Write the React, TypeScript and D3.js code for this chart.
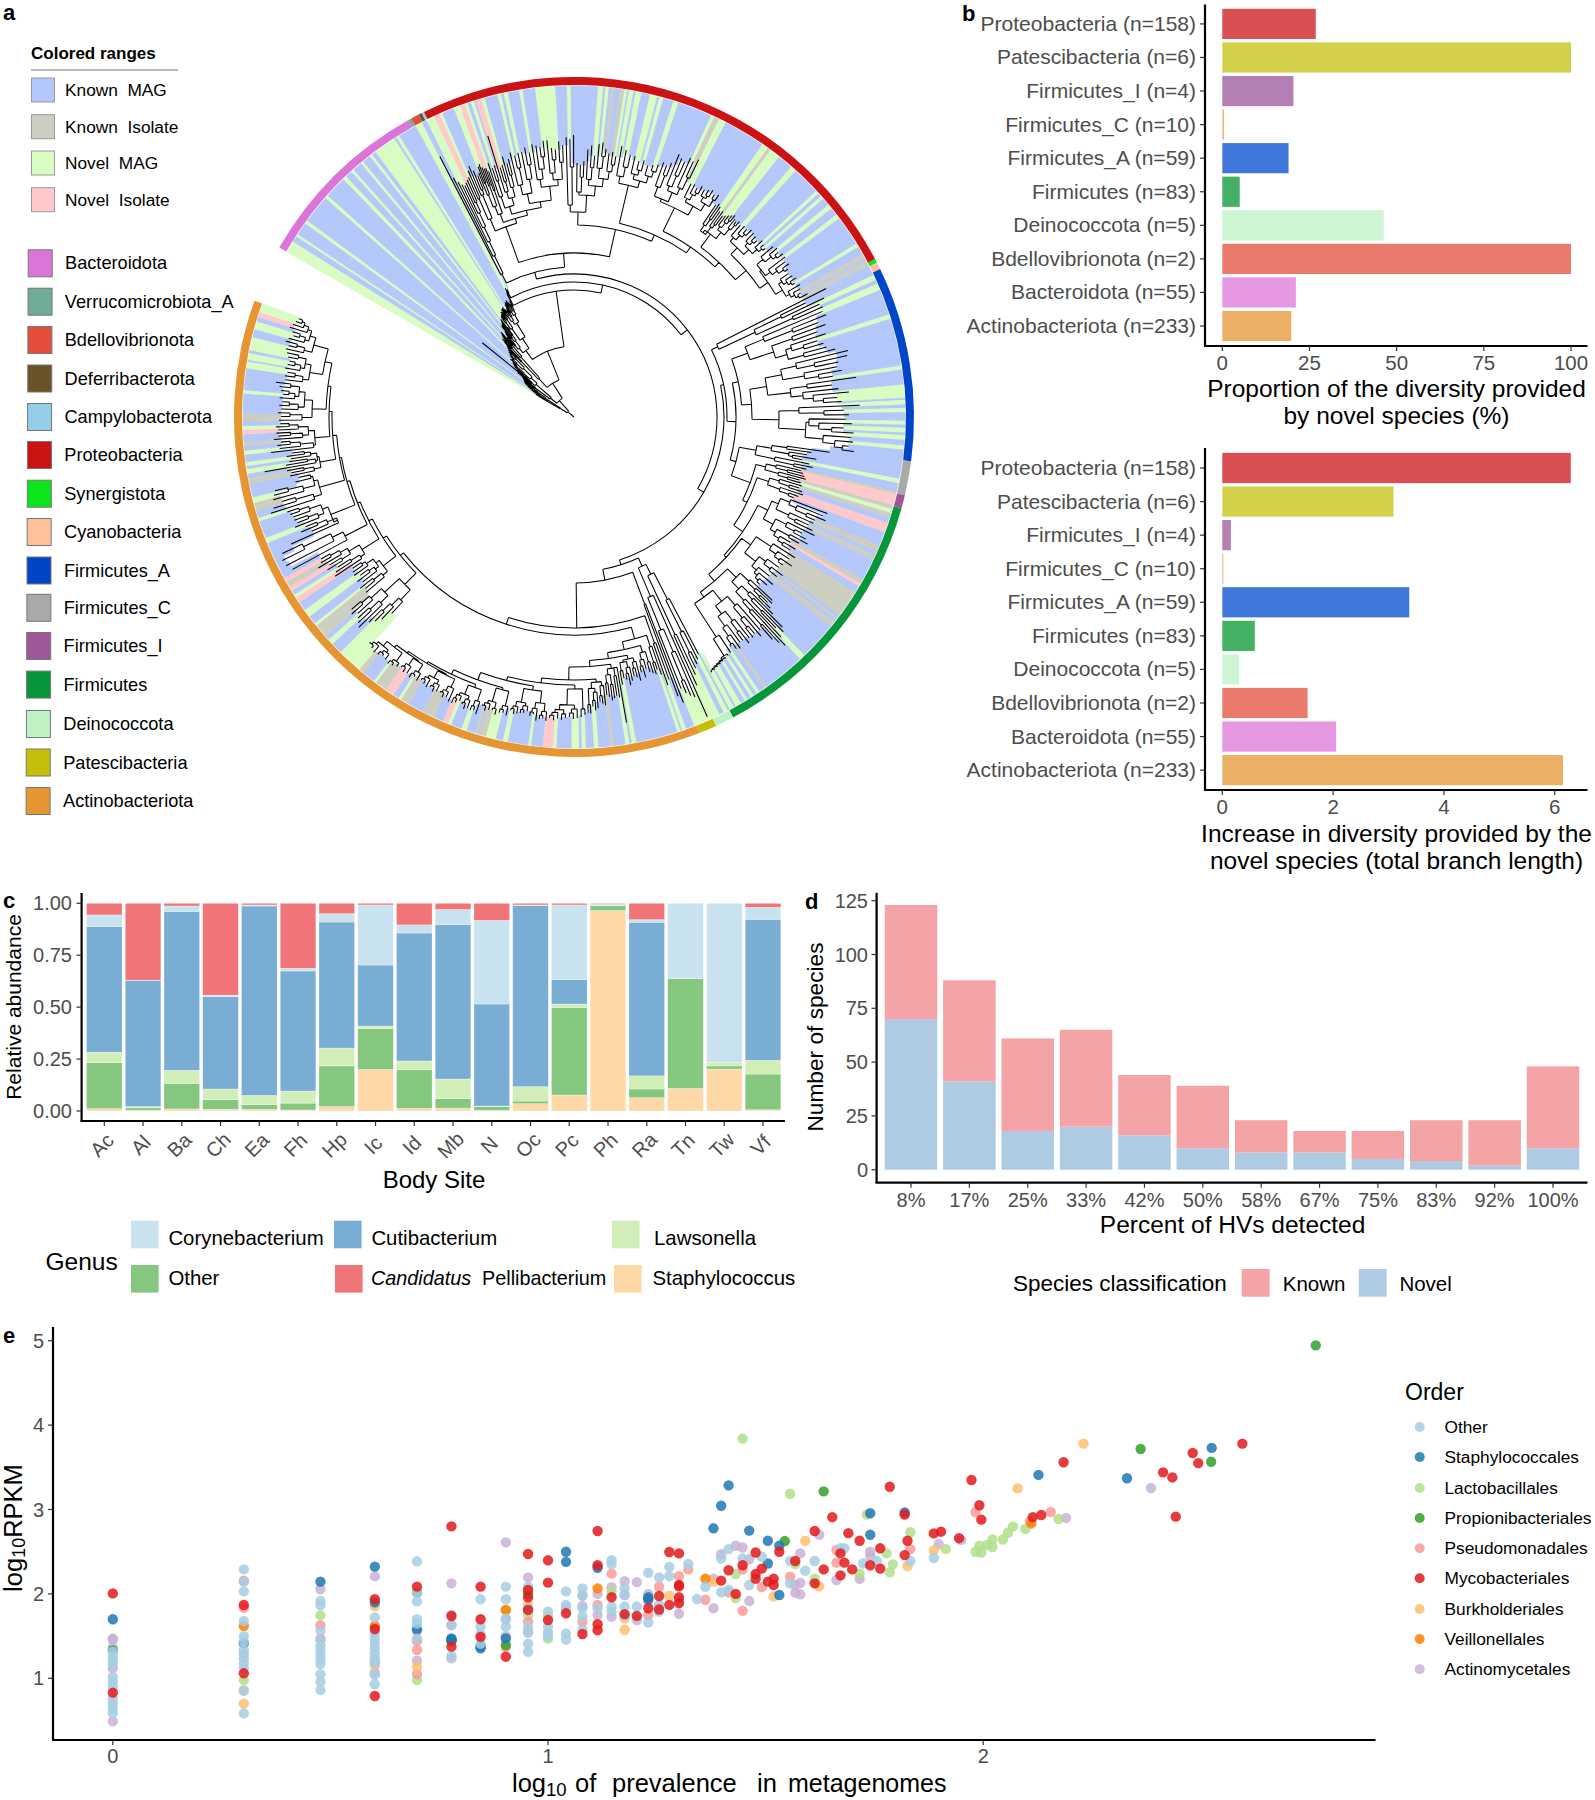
import React from "react";
import * as d3 from "d3";

const FONT = "'Liberation Sans', Arial, sans-serif";
const GREY = "#4D4D4D";

// ---------- panel a: legend ----------
const RANGE_LABELS = ["Known  MAG", "Known  Isolate", "Novel  MAG", "Novel  Isolate"];
const RANGE_COLORS = ["#B3C7FB", "#CDCEC2", "#D9FCC3", "#FFC9CB"];
const RANGE_Y = [90, 126.7, 163, 199.7];
const PHYLA = ["Bacteroidota", "Verrucomicrobiota_A", "Bdellovibrionota", "Deferribacterota", "Campylobacterota", "Proteobacteria", "Synergistota", "Cyanobacteria", "Firmicutes_A", "Firmicutes_C", "Firmicutes_I", "Firmicutes", "Deinococcota", "Patescibacteria", "Actinobacteriota"];
const PHYLA_COLORS = ["#DC75D8", "#6FAD98", "#E24E3B", "#6B5329", "#93CDEA", "#CB1313", "#0CE51C", "#FFC19B", "#0045C8", "#A9A9A9", "#9C5899", "#08963A", "#BFF2C3", "#C5BE0B", "#E69533"];
const PHYLA_Y = [263.3, 301.7, 340, 378.5, 417, 455, 493.7, 532, 570.5, 607.8, 646, 684.6, 724, 762.5, 801];
// clockwise degrees from the top, unwrapped from 299.9 to 650
const RING_ENDS = [330.8, 331.4, 332.8, 333.4, 333.8, 422.3, 423, 424.2, 457.5, 463.3, 465.6, 512.1, 515.3, 518.4, 650];

const BANDS: [number, string][] = [
  [302,"N"],[303.1,"K"],[303.5,"N"],[305.8,"K"],[306.4,"N"],[311.4,"K"],[312,"N"],[315.9,"K"],[316.6,"N"],[317.8,"K"],[318.3,"N"],[320,"K"],[320.5,"N"],[322,"K"],[322.5,"N"],[323.2,"K"],[327.2,"N"],[327.6,"K"],[328.2,"N"],[331.5,"K"],[332.7,"N"],[333.6,"K"],
  [335.1,"N"],[336.1,"P"],[336.6,"N"],[338.8,"K"],[339.9,"N"],[340.8,"P"],[341.3,"N"],[341.9,"K"],[342.5,"N"],[342.8,"K"],[343.8,"P"],[344.4,"N"],[346.7,"K"],[347.3,"N"],[347.8,"K"],[348.5,"N"],[350.5,"K"],[351.1,"N"],[353.3,"K"],[356.8,"N"],[358.8,"K"],[359.5,"N"],
  [364.2,"K"],[365.1,"N"],[365.5,"K"],[366.1,"N"],[366.5,"K"],[367.1,"I"],[368,"K"],[368.8,"I"],[369.3,"N"],[369.6,"K"],[370.4,"N"],[370.8,"K"],[371.8,"N"],[373.3,"K"],[374.6,"N"],[375,"K"],[375.7,"N"],[377.5,"K"],[378.4,"N"],[384.5,"K"],[385.1,"N"],[386,"I"],[387.3,"N"],[394.7,"K"],[395.8,"N"],[396.4,"I"],[398.3,"N"],[401,"K"],[402,"N"],[407,"K"],[407.6,"N"],[408.2,"K"],[408.8,"N"],[410.2,"K"],[411,"N"],[412.4,"K"],[413.2,"N"],[418.5,"K"],[419.2,"N"],[420.6,"K"],[421.5,"I"],[421.9,"K"],[422.8,"I"],
  [424.7,"K"],[425.6,"N"],[426.3,"K"],[427.5,"N"],[432,"K"],[432.8,"N"],[441.1,"K"],[441.8,"N"],[444.4,"K"],[446.7,"N"],[447.1,"K"],[447.9,"N"],[448.5,"K"],[449.2,"N"],[450.7,"K"],[451.4,"N"],[451.9,"K"],[452.8,"N"],[453.2,"K"],[454,"N"],[455,"K"],[455.7,"N"],
  [460.8,"K"],[461.6,"N"],[463,"K"],[463.5,"I"],[465.5,"P"],[466.2,"I"],[466.9,"N"],[467.7,"I"],[468.7,"K"],[470.5,"P"],[472.9,"K"],[474,"I"],[474.7,"K"],[475.6,"I"],[479.4,"K"],[480.2,"I"],[480.8,"P"],[482,"K"],[486.8,"I"],[487.3,"K"],[487.8,"I"],[488.3,"K"],[489.3,"I"],[496,"K"],[497,"N"],[504.5,"K"],[505,"I"],[506,"K"],[506.6,"N"],[507.2,"K"],[507.8,"N"],[508.5,"K"],[509,"N"],[509.8,"K"],[510.8,"N"],[511.2,"K"],[512,"N"],[512.4,"K"],[513.2,"N"],[514,"K"],[518.8,"N"],
  [520.3,"K"],[521,"N"],[521.3,"K"],[521.9,"N"],[529.2,"K"],[530,"N"],[530.4,"K"],[531.1,"N"],[533.1,"K"],[533.7,"I"],[535.8,"K"],[536.6,"N"],[538,"K"],[538.7,"N"],[539.2,"K"],[540.5,"N"],[543.1,"K"],[543.7,"N"],[545.5,"P"],[547.5,"K"],[548,"N"],[551.6,"K"],[552.5,"N"],[553.7,"K"],[555.5,"N"],[556.7,"I"],[557,"K"],[557.5,"I"],[559,"K"],[559.9,"N"],[561.8,"K"],[562.4,"N"],[563.4,"P"],[565,"K"],[567.2,"I"],[570,"K"],[571.5,"I"],[572,"N"],[573,"K"],[574.6,"P"],[576.7,"I"],[577.2,"N"],[579.5,"K"],[580.4,"I"],[584.8,"N"],[586.8,"K"],[587.8,"N"],[588.6,"K"],[591,"I"],[591.5,"N"],[593,"K"],[594.4,"N"],[596,"K"],[597,"P"],[597.6,"N"],[598.4,"K"],[599.2,"P"],[600.2,"I"],[601,"P"],[607.7,"K"],[608.6,"N"],[611.7,"K"],[612.3,"N"],[613.5,"K"],[615,"I"],[616,"N"],[618.4,"K"],[619.4,"I"],[620.2,"K"],[621,"N"],[621.5,"K"],[622.2,"N"],[623.5,"K"],[624.2,"N"],[625,"K"],[625.7,"I"],[627,"K"],[627.8,"P"],[628.5,"N"],[629.3,"K"],[630.6,"I"],[634.1,"K"],[634.7,"N"],[638.5,"K"],[639.7,"N"],[640,"K"],[641.2,"N"],[641.7,"K"],[644,"N"],[645.4,"K"],[646.8,"N"],[647.6,"K"],[648.5,"P"],[650,"N"],
];
const BAND_COLORS: Record<string, string> = { K: "#B3C7FB", I: "#CDCEC2", N: "#D9FCC3", P: "#FFC9CB" };

// Tree: "(a b)r" is an internal node at radius r, a bare number a tip at that radius, @x a named clade.
const CLADE_RANGES: Record<string, [number, number]> = {
  bact1:[300,306],bact2:[306,316],bact3:[316,320],bact4:[320,331.2],v1:[331.3,331.7],v2:[331.7,332.5],pc:[332.5,336],c1:[336,338.5],c2:[338.5,341],c3:[341,346],c4:[346,358],
  s3:[358,369.5],s14:[369.5,379],s26:[379,393.5],s36:[393.5,400.5],s50:[400.5,422.6],fa1:[422.6,426.5],fa2:[426.5,457.5],fc:[457.5,463],fi:[463,466.5],f1:[466.5,470.5],f2:[470.5,482],g1:[482,492.5],g2:[492.5,498.5],g3:[498.5,506],g4:[506,512],
  dp:[512,518.8],ls1:[518.8,519.8],ls2:[519.8,521],ls3:[521,522.5],a1:[522.5,525.5],a2:[525.5,530],a3:[530,533.5],a4:[533.5,537.5],a5:[537.5,545],a6:[545,552.5],a7:[552.5,558],a8:[558,563.5],a9:[563.5,570.5],a10:[570.5,575],a11:[575,582.5],
  K1:[582.5,589.5],K2:[589.5,596],K3:[596,601],K4:[601,605.5],K5:[605.5,612],K6:[612,618],K7:[618,623],K8:[623,629],K9:[629,637],K10:[637,643],K11:[643,650],
};
const CLADES: Record<string, string> = {
  bact1:"(((38 40)34 (44 (42 45)40)36)30 (((46 48)44 (50 (49 52)47)45)40 ((54 (55 56)52)50 ((58 (59 60)57)54 (60 (61 62)58)55)50)44)34)16",
  bact2:"((60 (64 66)58)48 ((72 (118 74)60)54 ((78 (80 82)76)66 ((86 (85 88)83)78 (90 (92 94)88)82)70)58)50)30",
  bact3:"((96 (98 102)92)76 ((106 (104 108)100)92 (110 (112 104)102)94)80)52",
  bact4:"(((104 (108 110)100)92 ((116 (117 118)112)100 (120 (122 112)108)102)96)88 (((124 (125 126)120)116 (128 (127 130)122)118)108 (((130 (131 128)124)120 (126 (128 132)122)118)114 ((134 (133 135)128)122 (132 (130 133)126)122)118)110)94)82",
  v1:"(140 142)132", v2:"(146 144)140",
  pc:"(293 (268 (262 (258 (256 (258 260)236)225)210)195)180)160",
  c1:"((262 268)238 (272 (266 260)245)240)215",
  c2:"(((262 (268 270)250)238 (266 264)246)225 (264 260)240)216",
  c3:"((268 (262 264)248)232 ((294 (260 262)245)235 (270 (262 266)250)238)228)220",
  c4:"(((272 (268 270)255)238 (270 (274 268)256)242)228 ((276 (274 (272 278)262)250)240 ((278 (270 268)258)245 (276 272)255)238)232)218",
  s3:"((280 (278 282)250)212 ((254 (252 256)240)225 ((268 (272 262)250)238 ((274 (276 270)262)250 (266 (268 264)255)248)240)232)222)205",
  s14:"((275 (272 268)255)245 ((268 (264 266)255)250 (262 (264 266)258)252)245)238",
  s26:"(((270 (268 272)258)245 ((283 (280 278)262)250 (284 (282 286)265)252)245)235 ((261 (262 (260 264)255)252)246 ((262 (264 266)258)255 (263 265)258)250)242)232",
  s36:"(((255 (258 256)240)232 (252 (254 250)238)234)225 ((252 (254 (256 258)250)246)240 (255 (254 256)250)244)236)228",
  s50:"(((254 (256 (255 258)250)246)240 ((257 (256 254)250)246 (258 (256 255)252)248)242)235 (((262 (264 (262 265)258)254)246 (265 (262 (264 260)256)250)244)238 ((258 (260 (262 258)255)252)248 (262 (260 (258 264)255)252)248)244)236)226",
  fa1:"(283 ((258 277)230 (270 272)240)200)160",
  fa2:"(((270 (272 262)235)205 ((268 258)232 ((265 (255 260)240)228 (262 270)238)222)210)185 ((((282 (280 270)246)228 (268 (272 262)248)234)212 ((285 260)235 (266 (276 (264 268)250)240)230)218)195 ((286 (270 275)250)225 ((272 (278 (270 280)258)245)235 (278 (280 (276 282)270)262)250)232)205)178)168",
  fc:"(((258 240)215 (236 (246 232)222)218)200 (240 (244 238)225)205)185",
  fi:"((233 (236 238)220)208 (240 (234 236)222)212)198",
  f1:"((238 (236 240)226)215 (242 (238 234)228)218)205",
  f2:"(((271 (268 (272 262)252)240)232 (262 (258 264)244)236)222 ((268 (256 262)248)238 ((266 258)246 (250 (258 254)244)238)232)226)215",
  g1:"((262 (258 (264 256)250)244)236 ((254 (262 258)248)240 (252 (260 (256 250)246)242)238)232)218",
  g2:"((270 (272 (268 274)258)250)240 ((280 (296 (300 292)270)255)248 (302 (311 (305 298)280)262)250)238)228",
  g3:"((283 (288 (282 284)272)262)248 ((282 (286 280)270)258 (280 (285 (283 278)276)268)258)246)236",
  g4:"(283 (284 (285 (286 (287 (288 (289 290)288)287)286)285)284)282)262",
  dp:"(((268 (272 (276 279)262)240)205 (285 295)240)175 (328 ((305 (302 298)285)255 292)230)195)164",
  ls1:"(306 298)200", ls2:"(279 284)240", ls3:"(272 (266 270)258)242",
  a1:"((268 266)256 (262 (270 264)258)252)245",
  a2:"((272 (268 266)258)252 ((270 (274 268)262)256 (266 272)258)250)248",
  a3:"((310 (284 282)262)254 ((284 286)270 (282 280)268)260)254",
  a4:"((290 (288 286)280)270 ((292 (294 290)284)276 (297 296)288)272)266",
  a5:"((298 300)292 ((301 (302 300)296)292 ((301 303)297 (302 (304 302)299)296)293)288)272",
  a6:"(((305 (303 304)300)296 (306 (300 302)298)294)288 ((298 (300 301)297)293 (302 (303 300)298)295)290)276",
  a7:"((306 (304 305)301)297 ((308 304)302 (305 (307 303)302)299)296)282",
  a8:"((313 (310 311)306)300 ((310 (312 308)306)302 (306 (309 311)305)301)298)288",
  a9:"((311 (308 (310 306)305)302)297 ((307 (309 306)304)300 (308 (306 304)302)299)296)288",
  a10:"((307 (305 308)303)299 (306 (307 304)302)298)290",
  a11:"((306 (308 309)305)302 ((307 (306 308)304)301 (309 (307 305)304)301)298)292",
  K1:"((268 (279 (285 290)272)262)252 ((301 (298 295)280)268 (292 (297 294)282)272)258)238",
  K2:"((272 (270 274)258)248 ((268 (272 266)256)250 (271 (270 268)258)254)246)242",
  K3:"((287 (284 280)265)255 ((290 286)272 (297 (292 290)280)270)262)250",
  K4:"(320 (324 (325 322)300)270)258",
  K5:"((310 (286 (296 290)278)268)258 ((300 (296 298)284)274 (298 (300 302)290)280)268)262",
  K6:"((318 (314 304)290)272 ((312 (310 308)295)280 (286 282)270)268)264",
  K7:"((290 (288 292)275)265 ((314 (292 288)270)262 (286 (290 284)272)266)260)258",
  K8:"((305 (296 (298 294)285)275)262 ((301 (296 298)284)272 (296 (298 294)285)276)266)260",
  K9:"((295 (293 296)284)272 ((293 (295 292)285)276 ((295 (292 294)286)280 (296 300)285)276)270)262",
  K10:"((291 (292 290)282)274 ((293 (291 290)284)278 (292 294)282)274)268",
  K11:"((296 (294 298)286)278 ((296 (292 294)286)280 (298 (296 (294 292)288)285)280)276)270",
  // backbone
  N168:"(@fc (@fi (@f1 (@f2 (@g1 (@g2 (@g3 @g4)222)216)207)204)193)188)168",
  N153:"(@fa1 (@fa2 @N168)162)153",
  N230:"(@ls3 (@a1 (@a2 (@a3 (@a4 (@a5 (@a6 (@a7 (@a8 (@a9 (@a10 @a11)289)287)285)280)272)268)263)250)244)238)230",
  L222:"(@K1 (@K2 (@K3 (@K4 (@K5 (@K6 (@K7 (@K8 (@K9 (@K10 @K11)255)248)245)242)238)236)233)230)226)222",
  N155:"(@dp (@ls1 (@ls2 (@N230 @L222)218)211)166)155",
  N202:"(@c1 (@c2 (@c3 @c4)212)207)202",
  N192:"(@s3 (@s14 (@s26 (@s36 @s50)212)206)199)192",
  N143:"((@pc (@N202 @N192)164)150 (@N153 @N155)150)143",
  ROOT:"(@bact1 (@bact2 (@bact3 (@bact4 (@v1 (@v2 @N143)135)127)71)40)22)8",
};

// ---------- panel b ----------
const B_CATEGORIES = ["Proteobacteria (n=158)", "Patescibacteria (n=6)", "Firmicutes_I (n=4)", "Firmicutes_C (n=10)", "Firmicutes_A (n=59)", "Firmicutes (n=83)", "Deinococcota (n=5)", "Bdellovibrionota (n=2)", "Bacteroidota (n=55)", "Actinobacteriota (n=233)"];
const B_COLORS = ["#D94F52", "#D3D04A", "#B47FB2", "#EDB98B", "#4077DB", "#43B063", "#CEF6D2", "#E97A6C", "#E698E3", "#EBB066"];
const B_PROPORTION = [26.8, 100, 20.4, 0.5, 19, 5, 46.3, 100, 21.1, 19.8];
const B_INCREASE = [6.29, 3.09, 0.155, 0.02, 3.375, 0.586, 0.304, 1.54, 2.055, 6.15];
const B_TICKS_TOP = [0, 25, 50, 75, 100];
const B_TICKS_BOTTOM = [0, 2, 4, 6];

// ---------- panel c ----------
const SITES = ["Ac", "Al", "Ba", "Ch", "Ea", "Fh", "Hp", "Ic", "Id", "Mb", "N", "Oc", "Pc", "Ph", "Ra", "Tn", "Tw", "Vf"];
const STAPHYLOCOCCUS = [.011,.003,.01,.008,.008,.005,.021,.2,.013,.014,.003,.035,.077,.965,.064,.109,.202,.006];
const OTHER_GENUS = [.222,.012,.123,.047,.022,.033,.196,.196,.187,.045,.019,.013,.422,.024,.042,.528,.015,.172];
const LAWSONELLA = [.05,.006,.063,.051,.045,.058,.086,.013,.041,.095,.002,.069,.016,.001,.063,0,.017,.066];
const CUTIBACTERIUM = [.605,.608,.765,.444,.912,.578,.607,.294,.616,.743,.491,.872,.117,0,.74,.001,.001,.679];
const CORYNEBACTERIUM = [.056,.001,.026,.008,.005,.013,.04,.289,.039,.073,.403,.003,.36,.008,.012,.362,.765,.058];
const PELLIBACTERIUM = [.056,.37,.013,.442,.008,.313,.05,.008,.104,.03,.082,.008,.008,.002,.079,0,0,.019];
const GENUS_COLORS = ["#FFD8A8", "#85C77E", "#D2EEB8", "#7AADD3", "#C9E2EF", "#F07578"];
const C_TICKS = [0, 0.25, 0.5, 0.75, 1];

// ---------- panel d ----------
const HV_BINS = ["8%", "17%", "25%", "33%", "42%", "50%", "58%", "67%", "75%", "83%", "92%", "100%"];
const HV_NOVEL = [70, 41, 18, 20, 16, 10, 8, 8, 5, 4, 2, 10];
const HV_KNOWN = [53, 47, 43, 45, 28, 29, 15, 10, 13, 19, 21, 38];
const D_TICKS = [0, 25, 50, 75, 100, 125];

// ---------- panel e: [prevalence n, log10 RPKM values] ----------
type Col = [number, number[]][];
const E_OTHER: Col = [[1,[1.316,1.264,1.217,1.169,1.019,.96,.9,.763,.703,.644,.585]],[2,[2.29,2.145,2.03,1.68,1.5,1.434,1.335,1.236,1.177,1.118,.853,.585]],[3,[1.917,1.865,1.564,1.45,1.39,1.335,1.276,1.217,1.169,1.05,.96,.862]],[4,[1.72,1.53,1.47,1.41,1.355,1.295,1.236,1.177,1.039,.93]],[5,[2.386,2.014,1.912,1.7,1.65,1.47]],[6,[1.75,1.63,1.264]],[7,[1.936,1.61,1.41]],[8,[2.086,1.936,1.71,1.61]],[9,[2.086,1.83,1.61,1.54,1.41,1.315]],[10,[1.79,1.61,1.54,1.5]],[11,[2.03,1.87,1.53,1.46]],[12,[2.066,1.98,1.83,1.73,1.58]],[13,[1.83]],[14,[2.4,2.35,1.85,1.79]],[15,[2.066,1.99,1.85,1.74]],[16,[1.85]],[17,[2.25,1.66]],[18,[2.196,1.87,1.79]],[19,[2.32,2.21]],[20,[1.93]],[21,[2.354]],[22,[1.94]],[23,[2.085]],[25,[2.42,2.02]],[26,[2.53,2.05]],[28,[2.42]],[29,[2.105]],[31,[2.44]],[36,[2.39,2.125]],[39,[2.275]],[41,[2.39]],[47,[2.54]],[48,[2.54]],[53,[2.36]],[57,[2.39]],[68,[2.39]],[77,[2.425]]];
const E_STAPH: Col = [[1,[1.7]],[2,[1.414]],[3,[2.145]],[4,[2.323,1.9]],[5,[1.58]],[6,[1.473,1.45]],[7,[1.355,1.38]],[8,[1.473]],[11,[2.5,2.38]],[13,[2.31]],[17,[1.96,1.94]],[24,[2.777]],[25,[3.045]],[26,[3.286]],[29,[2.75]],[32,[2.63,2.36]],[34,[2.57,1.987]],[55,[2.955,2.7]],[66,[2.965]],[134,[3.41]],[214,[3.37]],[335,[3.73]]];
const E_LACTO: Col = [[2,[.98]],[3,[1.746]],[5,[.98]],[8,[1.81]],[9,[1.75]],[10,[1.74,1.47]],[14,[2.03]],[27,[2.236,1.95]],[28,[3.84]],[36,[3.187]],[37,[2.354]],[41,[2.18]],[52,[2.24]],[54,[2.94]],[60,[2.48]],[61,[2.255]],[62,[2.35]],[68,[2.73]],[82,[2.53]],[96,[2.5]],[98,[2.57]],[99,[2.49]],[102,[2.58]],[105,[2.645,2.555]],[111,[2.645]],[114,[2.725]],[117,[2.8]],[125,[2.77]],[149,[2.887]]];
const E_PROPIONI: Col = [[1,[1.33]],[5,[2.015]],[6,[1.44,1.46]],[8,[1.394]],[9,[2]],[35,[2.626]],[43,[3.215]],[230,[3.717]],[334,[3.566]],[581,[4.945]]];
const E_PSEUDO: Col = [[2,[2.157,1.837]],[3,[1.63,1.47]],[5,[1.44,1.335,1.05]],[6,[1.63]],[8,[1.367]],[9,[1.67,1.55]],[12,[1.67]],[13,[1.87]],[14,[2.24]],[17,[1.75]],[18,[2.085]],[20,[2.21]],[21,[2.29]],[23,[1.93]],[26,[2.02]],[28,[2.29,1.8]],[31,[2.08]],[36,[2.204]],[46,[2.52,2.37]],[68,[2.53]],[96,[2.97]],[128,[2.86]],[143,[2.97]]];
const E_MYCO: Col = [[1,[2.006,.83]],[2,[1.868,1.059]],[4,[1.936,1.584,.79]],[5,[2.086]],[6,[2.8,1.738,1.375]],[7,[2.086,1.7,1.49]],[8,[1.256]],[9,[2.473,2.046,1.96,1.81]],[10,[2.398,2.133,1.69]],[11,[1.77]],[12,[1.525]],[13,[2.745,2.34,1.64,1.57]],[14,[1.96]],[15,[1.76]],[16,[1.74]],[17,[1.83]],[18,[1.975,1.815]],[19,[2.497,1.87]],[20,[2.48,2.105,2.09,1.96,1.89]],[25,[2.157]],[26,[2.28]],[27,[2]],[28,[2.34]],[30,[2.49,2.235,2.18]],[31,[2.3]],[32,[2.145]],[33,[2.18,2.105]],[34,[2.5]],[37,[2.39]],[41,[2.745,2.125]],[43,[2.29]],[45,[2.91]],[47,[2.48,2.22]],[48,[2.37]],[49,[2.72]],[50,[2.29]],[52,[2.63]],[55,[2.34]],[58,[2.54,2.3]],[61,[3.27]],[66,[2.94,2.46]],[67,[2.63]],[77,[2.717]],[80,[2.737]],[88,[2.66]],[94,[3.35]],[98,[3.05]],[99,[2.88]],[130,[2.91]],[136,[2.935]],[153,[3.56]],[259,[3.44]],[272,[3.38]],[277,[2.915]],[303,[3.67]],[312,[3.55]],[394,[3.78]]];
const E_BURK: Col = [[2,[.86,.7]],[4,[1.857,1.15]],[5,[1.138]],[9,[1.88]],[15,[1.71,1.575]],[19,[1.98]],[24,[2.145]],[33,[1.97]],[39,[2.63]],[42,[2.09]],[67,[2.33]],[77,[2.516]],[120,[3.25]],[170,[3.78]]];
const E_VEIL: Col = [[2,[1.62]],[4,[1.62]],[8,[1.81]],[13,[2.066]],[23,[2.18]],[129,[2.835]]];
const E_ACTINO: Col = [[1,[1.47,1.46,1.37,1.12,.49]],[2,[1.288]],[3,[2.055]],[4,[2.208,1.067,1.2]],[5,[1.56,1.21]],[6,[2.125,1.236]],[7,[1.52]],[8,[2.61,1.7,1.5]],[9,[2.196,1.83]],[11,[1.83]],[12,[1.98,1.857]],[13,[2,1.75]],[14,[2.08,1.73]],[15,[2.15,1.987]],[16,[2.14,1.69]],[17,[2,1.91]],[20,[1.765]],[24,[2.18,1.83]],[25,[2.47]],[27,[2.57]],[28,[2.55]],[29,[2.41,1.915]],[37,[2.105,2.015]],[38,[2.48,2.13,1.995]],[42,[2.7]],[46,[2.165]],[52,[2.18]],[55,[2.5,2.45]],[79,[2.59]],[89,[2.64]],[155,[2.9]],[243,[3.255]]];
const ORDERS = ["Other", "Staphylococcales", "Lactobacillales", "Propionibacteriales", "Pseudomonadales", "Mycobacteriales", "Burkholderiales", "Veillonellales", "Actinomycetales"];
const ORDER_COLORS = ["#A6CEE3", "#1F78B4", "#B2DF8A", "#33A02C", "#FB9A99", "#E31A1C", "#FDBF6F", "#FF7F00", "#CAB2D6"];
const ORDER_SERIES: Col[] = [E_OTHER, E_STAPH, E_LACTO, E_PROPIONI, E_PSEUDO, E_MYCO, E_BURK, E_VEIL, E_ACTINO];
const ORDER_DRAW = [8, 2, 4, 6, 7, 3, 1, 0, 5];
const ORDER_Y = [1427, 1457, 1488, 1518, 1548.3, 1578.3, 1609, 1639, 1669.3];
const E_TICKS_X = [0, 1, 2];
const E_TICKS_Y = [1, 2, 3, 4, 5];

// ---------- tree helpers ----------
type TNode = { r: number; a: number; children: TNode[] };
function parseClade(name: string): TNode {
  const tokens = CLADES[name].match(/[()]|@\w+|[\d.]+/g) as string[];
  let i = 0;
  const read = (): TNode => {
    const t = tokens[i++];
    if (t === "(") {
      const children: TNode[] = [];
      while (tokens[i] !== ")") children.push(read());
      i++;
      const r = +tokens[i++];
      return { r, a: 0, children };
    }
    if (t[0] === "@") return parseClade(t.slice(1));
    return { r: +t, a: 0, children: [] };
  };
  const root = read();
  const range = CLADE_RANGES[name];
  if (range) {
    const own = collect(root);
    own.forEach((l, k) => { l.a = range[0] + ((k + 0.5) / own.length) * (range[1] - range[0]); });
  }
  return root;
}
function collect(n: TNode): TNode[] {
  return n.children.length ? n.children.flatMap(collect) : [n];
}
function remid(n: TNode) {
  if (!n.children.length) return;
  n.children.forEach(remid);
  n.a = (n.children[0].a + n.children[n.children.length - 1].a) / 2;
}

const CX = 574, CY = 417;
const rad = (a: number) => (a * Math.PI) / 180;
function treePath(root: TNode) {
  const p = d3.path();
  const walk = (n: TNode, parentR: number) => {
    p.moveTo(CX + parentR * Math.sin(rad(n.a)), CY - parentR * Math.cos(rad(n.a)));
    p.lineTo(CX + n.r * Math.sin(rad(n.a)), CY - n.r * Math.cos(rad(n.a)));
    if (n.children.length) {
      const a0 = n.children[0].a, a1 = n.children[n.children.length - 1].a;
      p.moveTo(CX + n.r * Math.sin(rad(a0)), CY - n.r * Math.cos(rad(a0)));
      p.arc(CX, CY, n.r, rad(a0 - 90), rad(a1 - 90));
      n.children.forEach((c) => walk(c, n.r));
    }
  };
  walk(root, 0);
  return p.toString();
}

function Txt(props: any) {
  const { children, ...rest } = props;
  return <text fontFamily={FONT} {...rest}>{children}</text>;
}

function PanelA() {
  const root = parseClade("ROOT");
  remid(root);
  const leaves = collect(root).sort((a, b) => a.a - b.a);
  const tips = leaves.map((l) => l.r);
  const edges = leaves.map((l, i) => (i === 0 ? 299.9 : (leaves[i - 1].a + l.a) / 2));
  edges.push(650);
  const wedgeArc = d3.arc<any>();
  const wedges: { d: string; fill: string }[] = [];
  let start = 299.9;
  BANDS.forEach(([end, code]) => {
    leaves.forEach((_, i) => {
      const a0 = Math.max(start, edges[i]), a1 = Math.min(end, edges[i + 1]);
      if (a1 <= a0) return;
      const inner = Math.min(tips[i], tips[Math.max(0, i - 1)], tips[Math.min(tips.length - 1, i + 1)]);
      wedges.push({
        d: wedgeArc({ innerRadius: inner, outerRadius: 331, startAngle: rad(a0), endAngle: rad(a1) }) as string,
        fill: BAND_COLORS[code],
      });
    });
    start = end;
  });
  let ringStart = 299.9;
  const ring = RING_ENDS.map((end, i) => {
    const d = wedgeArc({ innerRadius: 332, outerRadius: 340, startAngle: rad(ringStart), endAngle: rad(end) }) as string;
    ringStart = end;
    return { d, fill: PHYLA_COLORS[i] };
  });
  return (
    <g>
      <Txt x={3} y={20} fontSize={22} fontWeight="bold">a</Txt>
      <Txt x={31} y={59} fontSize={17} fontWeight="bold">Colored ranges</Txt>
      <line x1={31} x2={178} y1={70} y2={70} stroke="#777" strokeWidth={1} />
      {RANGE_LABELS.map((t, i) => (
        <g key={t}>
          <rect x={31.5} y={RANGE_Y[i] - 12} width={23} height={24} fill={RANGE_COLORS[i]} stroke="#999" strokeWidth={1} />
          <Txt x={65} y={RANGE_Y[i] + 6} fontSize={17.3} style={{ whiteSpace: "pre" }}>{t}</Txt>
        </g>
      ))}
      {PHYLA.map((t, i) => (
        <g key={t}>
          <rect x={28.2 - i * 0.15} y={PHYLA_Y[i] - 13.5} width={24} height={27} fill={PHYLA_COLORS[i]} stroke="#777" strokeWidth={1} />
          <Txt x={65 - i * 0.14} y={PHYLA_Y[i] + 6} fontSize={18.2}>{t}</Txt>
        </g>
      ))}
      <g transform={`translate(${CX},${CY})`}>
        {wedges.map((w, i) => <path key={i} d={w.d} fill={w.fill} stroke={w.fill} strokeWidth={0.6} />)}
        {ring.map((w, i) => <path key={i} d={w.d} fill={w.fill} />)}
      </g>
      <path d={treePath(root)} fill="none" stroke="#000" strokeWidth={1.05} />
    </g>
  );
}

function BarsB({ values, yStart, axisTop, axisBottom, max, ticks, xMaxPx, tickBase, title, titleBase }: any) {
  const step = 33.57;
  const y = d3.scaleBand<string>().domain(B_CATEGORIES).range([yStart - step / 2, yStart - step / 2 + step * 10]).paddingInner(0.1).paddingOuter(0.05);
  const x = d3.scaleLinear().domain([0, max]).range([1222.3, xMaxPx]);
  return (
    <g>
      {B_CATEGORIES.map((c, i) => (
        <g key={c}>
          <rect x={x(0)} y={y(c)} width={x(values[i]) - x(0)} height={y.bandwidth()} fill={B_COLORS[i]} />
          <line x1={1200} x2={1205} y1={y(c)! + y.bandwidth() / 2} y2={y(c)! + y.bandwidth() / 2} stroke="#333" strokeWidth={1.2} />
          <Txt x={1196} y={y(c)! + y.bandwidth() / 2 + 7} fontSize={21} fill={GREY} textAnchor="end">{c}</Txt>
        </g>
      ))}
      <line x1={1205} x2={1205} y1={axisTop} y2={axisBottom} stroke="#000" strokeWidth={2.2} />
      <line x1={1204} x2={1587.5} y1={axisBottom} y2={axisBottom} stroke="#000" strokeWidth={2.2} />
      {ticks.map((t: number) => (
        <g key={t}>
          <line x1={x(t)} x2={x(t)} y1={axisBottom} y2={axisBottom + 5} stroke="#333" strokeWidth={1.2} />
          <Txt x={x(t)} y={tickBase} fontSize={20.5} fill={GREY} textAnchor="middle">{t}</Txt>
        </g>
      ))}
      {title.map((t: string, i: number) => (
        <Txt key={t} x={1396.5} y={titleBase + i * 26.8} fontSize={24.5} textAnchor="middle">{t}</Txt>
      ))}
    </g>
  );
}

function PanelC() {
  const x = d3.scaleBand<string>().domain(SITES).range([104.3 - 19.375, 763 + 19.375]).paddingInner(0.08).paddingOuter(0.04);
  const y = d3.scaleLinear().domain([0, 1]).range([1111, 903.3]);
  const rows = SITES.map((s, i) => ({ s, a: STAPHYLOCOCCUS[i], b: OTHER_GENUS[i], c: LAWSONELLA[i], d: CUTIBACTERIUM[i], e: CORYNEBACTERIUM[i], f: PELLIBACTERIUM[i] }));
  const stack = d3.stack<any>().keys(["a", "b", "c", "d", "e", "f"])(rows);
  const key = (lx: number, ly: number, c: string) => <rect x={lx} y={ly} width={27.6} height={27.6} fill={c} />;
  return (
    <g>
      <Txt x={3} y={908} fontSize={22} fontWeight="bold">c</Txt>
      {stack.map((layer, k) => layer.map((seg, i) => (
        <rect key={k + "-" + i} x={x(SITES[i])} y={y(seg[1])} width={x.bandwidth()} height={Math.max(0, y(seg[0]) - y(seg[1]))} fill={GENUS_COLORS[k]} stroke="#fff" strokeOpacity={0.6} strokeWidth={0.5} />
      )))}
      <line x1={81.6} x2={81.6} y1={893} y2={1121} stroke="#000" strokeWidth={2.2} />
      <line x1={80.5} x2={785} y1={1121} y2={1121} stroke="#000" strokeWidth={2.2} />
      {C_TICKS.map((t) => (
        <g key={t}>
          <line x1={76.5} x2={81.6} y1={y(t)} y2={y(t)} stroke="#333" strokeWidth={1.2} />
          <Txt x={72} y={y(t) + 7} fontSize={20} fill={GREY} textAnchor="end">{t.toFixed(2)}</Txt>
        </g>
      ))}
      {SITES.map((s) => {
        const cx = x(s)! + x.bandwidth() / 2;
        return (
          <g key={s}>
            <line x1={cx} x2={cx} y1={1121} y2={1126} stroke="#333" strokeWidth={1.2} />
            <Txt transform={`translate(${cx - 2.5},1145) rotate(-45)`} y={7} fontSize={20} fill={GREY} textAnchor="middle">{s}</Txt>
          </g>
        );
      })}
      <Txt x={434} y={1188} fontSize={24} textAnchor="middle">Body Site</Txt>
      <Txt transform="translate(21,1007) rotate(-90)" fontSize={21} textAnchor="middle">Relative abundance</Txt>
      <Txt x={45.5} y={1270} fontSize={24.5}>Genus</Txt>
      {key(131, 1220.7, GENUS_COLORS[4])}
      {key(334, 1220.7, GENUS_COLORS[3])}
      {key(612, 1220.7, GENUS_COLORS[2])}
      {key(131, 1265, GENUS_COLORS[1])}
      {key(335, 1265, GENUS_COLORS[5])}
      {key(614, 1265, GENUS_COLORS[0])}
      <Txt x={168.4} y={1244.5} fontSize={20.4}>Corynebacterium</Txt>
      <Txt x={371.4} y={1244.5} fontSize={20.4}>Cutibacterium</Txt>
      <Txt x={654} y={1244.5} fontSize={20.4}>Lawsonella</Txt>
      <Txt x={168.4} y={1285} fontSize={20.4}>Other</Txt>
      <Txt x={371} y={1285} fontSize={19.8} style={{ whiteSpace: "pre" }}><tspan fontStyle="italic">Candidatus</tspan>{"  Pellibacterium"}</Txt>
      <Txt x={652.4} y={1285} fontSize={20.4}>Staphylococcus</Txt>
    </g>
  );
}

function PanelD() {
  const x = d3.scaleBand<string>().domain(HV_BINS).range([911 - 29.18, 1553 + 29.18]).paddingInner(0.1).paddingOuter(0.05);
  const y = d3.scaleLinear().domain([0, 125]).range([1169.7, 900.7]);
  const rows = HV_BINS.map((b, i) => ({ b, novel: HV_NOVEL[i], known: HV_KNOWN[i] }));
  const stack = d3.stack<any>().keys(["novel", "known"])(rows);
  const cols = ["#AFCBE3", "#F4A3A6"];
  return (
    <g>
      <Txt x={805} y={909} fontSize={22} fontWeight="bold">d</Txt>
      {stack.map((layer, k) => layer.map((seg, i) => (
        <rect key={k + "-" + i} x={x(HV_BINS[i])} y={y(seg[1])} width={x.bandwidth()} height={y(seg[0]) - y(seg[1])} fill={cols[k]} />
      )))}
      <line x1={876.6} x2={876.6} y1={892.7} y2={1182.7} stroke="#000" strokeWidth={2.2} />
      <line x1={875.5} x2={1587.5} y1={1182.7} y2={1182.7} stroke="#000" strokeWidth={2.2} />
      {D_TICKS.map((t) => (
        <g key={t}>
          <line x1={871.5} x2={876.6} y1={y(t)} y2={y(t)} stroke="#333" strokeWidth={1.2} />
          <Txt x={868} y={y(t) + 7} fontSize={20} fill={GREY} textAnchor="end">{t}</Txt>
        </g>
      ))}
      {HV_BINS.map((b) => {
        const cx = x(b)! + x.bandwidth() / 2;
        return (
          <g key={b}>
            <line x1={cx} x2={cx} y1={1182.7} y2={1187.7} stroke="#333" strokeWidth={1.2} />
            <Txt x={cx} y={1206.7} fontSize={20} fill={GREY} textAnchor="middle">{b}</Txt>
          </g>
        );
      })}
      <Txt x={1232.6} y={1232.7} fontSize={24.5} textAnchor="middle">Percent of HVs detected</Txt>
      <Txt transform="translate(823,1037) rotate(-90)" fontSize={22.7} textAnchor="middle">Number of species</Txt>
      <Txt x={1013} y={1290.7} fontSize={22.5}>Species classification</Txt>
      <rect x={1241.7} y={1269} width={27.9} height={27.7} fill={cols[1]} />
      <Txt x={1282.8} y={1290.7} fontSize={20.5}>Known</Txt>
      <rect x={1358.8} y={1269} width={27.9} height={27.7} fill={cols[0]} />
      <Txt x={1399.4} y={1290.7} fontSize={20.5}>Novel</Txt>
    </g>
  );
}

function PanelE() {
  const x = d3.scaleLinear().domain([0, 2]).range([112.8, 983.2]);
  const y = d3.scaleLinear().domain([1, 5]).range([1678.3, 1340.7]);
  return (
    <g>
      <Txt x={3} y={1343} fontSize={22} fontWeight="bold">e</Txt>
      {ORDER_DRAW.map((s) => (
        <g key={s} fill={ORDER_COLORS[s]} fillOpacity={0.85}>
          {ORDER_SERIES[s].flatMap(([n, vals]) => vals.map((v, i) => (
            <circle key={n + "-" + i} cx={x(Math.log10(n))} cy={y(v)} r={5.2} />
          )))}
        </g>
      ))}
      <line x1={53} x2={53} y1={1327} y2={1740} stroke="#000" strokeWidth={2.2} />
      <line x1={52} x2={1375.6} y1={1740} y2={1740} stroke="#000" strokeWidth={2.2} />
      {E_TICKS_Y.map((t) => (
        <g key={t}>
          <line x1={48} x2={53} y1={y(t)} y2={y(t)} stroke="#333" strokeWidth={1.2} />
          <Txt x={44} y={y(t) + 7} fontSize={20} fill={GREY} textAnchor="end">{t}</Txt>
        </g>
      ))}
      {E_TICKS_X.map((t) => (
        <g key={t}>
          <line x1={x(t)} x2={x(t)} y1={1740} y2={1745} stroke="#333" strokeWidth={1.2} />
          <Txt x={x(t)} y={1763} fontSize={20} fill={GREY} textAnchor="middle">{t}</Txt>
        </g>
      ))}
      <Txt transform="translate(22,1528) rotate(-90)" fontSize={25.5} textAnchor="middle">log<tspan fontSize={18} dy={3}>10</tspan><tspan dy={-3}>RPKM</tspan></Txt>
      <Txt x={512} y={1791.7} fontSize={25.5}>log<tspan fontSize={18.5} dy={4}>10</tspan></Txt>
      <Txt x={575} y={1791.7} fontSize={25.5}>of</Txt>
      <Txt x={612} y={1791.7} fontSize={25.5}>prevalence</Txt>
      <Txt x={757} y={1791.7} fontSize={25.5}>in</Txt>
      <Txt x={788} y={1791.7} fontSize={25}>metagenomes</Txt>
      <Txt x={1405} y={1400} fontSize={23}>Order</Txt>
      {ORDERS.map((t, i) => (
        <g key={t}>
          <circle cx={1419.7} cy={ORDER_Y[i]} r={5} fill={ORDER_COLORS[i]} fillOpacity={0.85} />
          <Txt x={1444.5} y={ORDER_Y[i] + 6} fontSize={17.3}>{t}</Txt>
        </g>
      ))}
    </g>
  );
}

export default function App() {
  return (
    <svg width={1595} height={1800} viewBox="0 0 1595 1800" style={{ position: "absolute", left: 0, top: 0, background: "#fff" }}>
      <PanelA />
      <Txt x={962} y={21} fontSize={22} fontWeight="bold">b</Txt>
      <BarsB values={B_PROPORTION} yStart={23.9} axisTop={4.5} axisBottom={346} max={100} ticks={B_TICKS_TOP} xMaxPx={1571} tickBase={370} title={["Proportion of the diversity provided", "by novel species (%)"]} titleBase={397} />
      <BarsB values={B_INCREASE} yStart={468} axisTop={448} axisBottom={790} max={6} ticks={B_TICKS_BOTTOM} xMaxPx={1554.7} tickBase={813.7} title={["Increase in diversity provided by the", "novel species (total branch length)"]} titleBase={842} />
      <PanelC />
      <PanelD />
      <PanelE />
    </svg>
  );
}
